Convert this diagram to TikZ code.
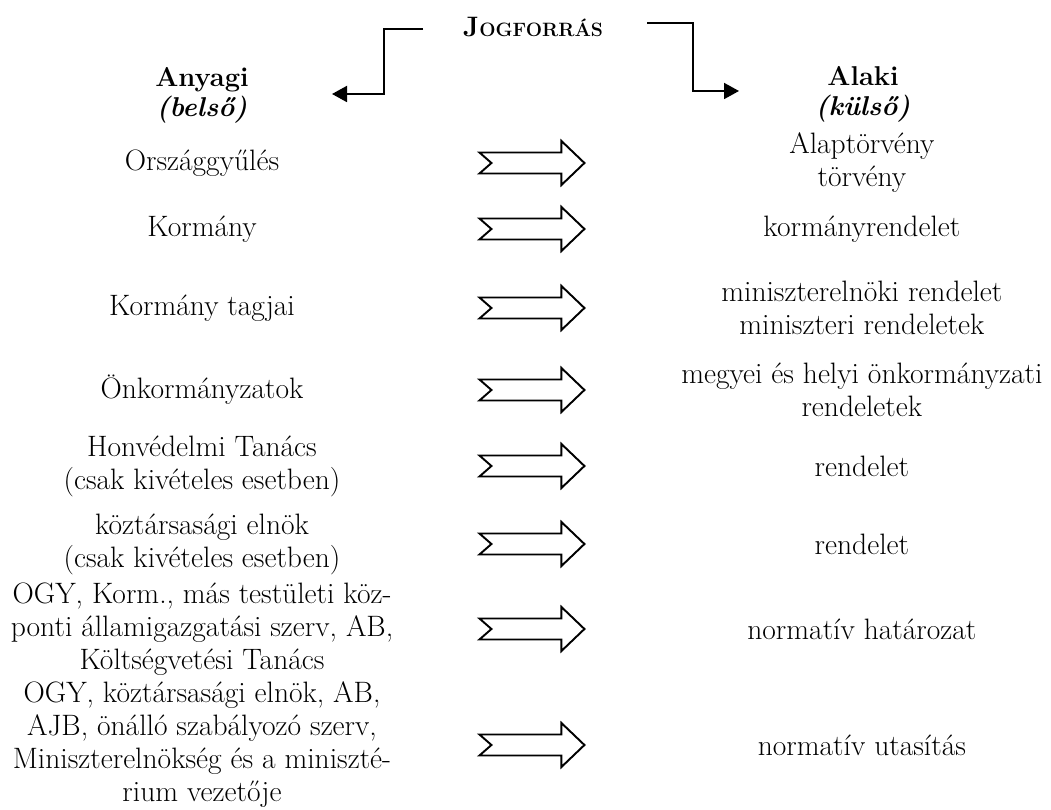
\documentclass[tikz,border=0pt]{standalone}
\usepackage{fontspec}
\usetikzlibrary{arrows.meta}

\tikzset{
  hollow/.pic={\draw[line width=1.1pt, fill=white] (-52.5,-10.5) -- (29.5,-10.5) -- (29.5,-22) -- (52.5,0) -- (29.5,22) -- (29.5,10.5) -- (-52.5,10.5) -- (-40.5,0) -- cycle;},
  elbow/.style={line width=1.1pt, -{Triangle[length=0.3cm,width=0.32cm]}},
  head/.style={font=\fontsize{15.5}{17}\selectfont},
}

\begin{document}
\begin{tikzpicture}[x=0.02cm, y=-0.02cm, node distance=6.6cm, every node/.style={align=center, font=\fontsize{16.8}{18.8}\selectfont}]
                        \useasboundingbox (0,0) rectangle (1051,810);

                        \node [head] (jog) at (533,27) {\bfseries{\fontsize{16}{16}\selectfont J}{\fontsize{11}{12}\selectfont OGFORRÁS}};
                        \node [head] (anyagi) at (202,95) {\textbf{Anyagi}\\\textbf{\textit{(belső)}}};
                        \node [head] (alaki) at (863,94) {\textbf{Alaki}\\\textbf{\textit{(külső)}}};

                        \coordinate (lstart) at (423,29);
                        \coordinate (ltip) at (332,94);
                        \coordinate (rstart) at (647,23);
                        \coordinate (rtip) at (739,91);
                        \draw[elbow] (lstart) -- ++(-39,0) |- (ltip);
                        \draw[elbow] (rstart) -- ++(46,0) |- (rtip);

                        \node (l1) at (202,163) {Országgyűlés};
                        \coordinate [right of = l1] (a1);
                        \node (r1) [right of = a1] {Alaptörvény\\törvény};

                        \node (l2) at (202,229) {Kormány};
                        \coordinate [right of = l2] (a2);
                        \node (r2) [right of = a2] {kormányrendelet};

                        \node (l3) at (202,308) {Kormány tagjai};
                        \coordinate [right of = l3] (a3);
                        \node (r3) [right of = a3] {miniszterelnöki rendelet\\miniszteri rendeletek};

                        \node (l4) at (202,390) {Önkormányzatok};
                        \coordinate [right of = l4] (a4);
                        \node (r4) [right of = a4] {megyei és helyi önkormányzati\\rendeletek};

                        \node (l5) at (202,466) {Honvédelmi Tanács\\(csak kivételes esetben)};
                        \coordinate [right of = l5] (a5);
                        \node (r5) [right of = a5] {rendelet};

                        \node (l6) at (202,544) {köztársasági elnök\\(csak kivételes esetben)};
                        \coordinate [right of = l6] (a6);
                        \node (r6) [right of = a6] {rendelet};

                        \node (l7) at (202,629) {OGY, Korm., más testületi köz-\\ponti államigazgatási szerv, AB,\\Költségvetési Tanács};
                        \coordinate [right of = l7] (a7);
                        \node (r7) [right of = a7] {normatív határozat};

                        \node (l8) at (202,745) {OGY, köztársasági elnök, AB,\\AJB, önálló szabályozó szerv,\\Miniszterelnökség és a miniszté-\\rium vezetője};
                        \coordinate [right of = l8] (a8);
                        \node (r8) [right of = a8] {normatív utasítás};

                        \pic at (a1) {hollow};
                        \pic at (a2) {hollow};
                        \pic at (a3) {hollow};
                        \pic at (a4) {hollow};
                        \pic at (a5) {hollow};
                        \pic at (a6) {hollow};
                        \pic at (a7) {hollow};
                        \pic at (a8) {hollow};

                    \end{tikzpicture}
\end{document}
